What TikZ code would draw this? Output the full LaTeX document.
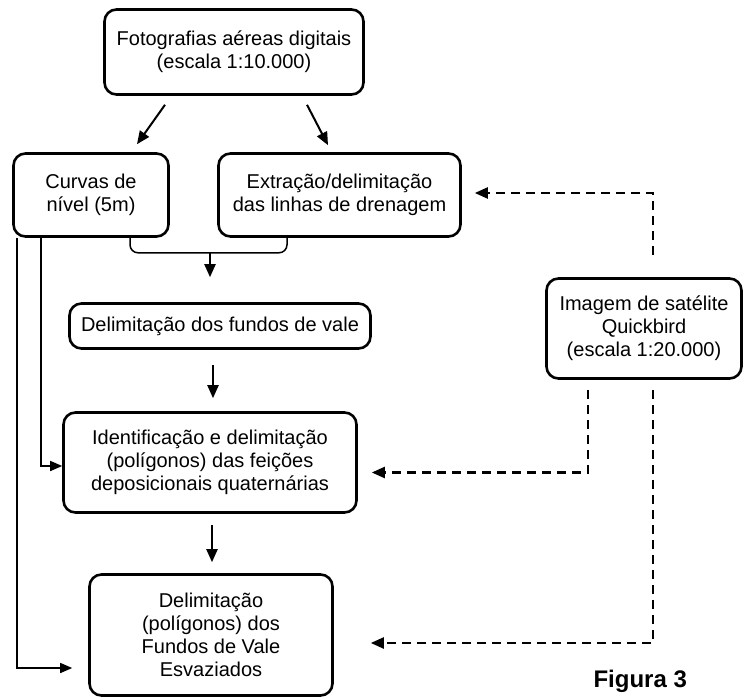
\documentclass[tikz,border=0pt]{standalone}
\usepackage{fontspec}
\setmainfont{Liberation Sans}
\usetikzlibrary{arrows.meta}

\begin{document}
\begin{tikzpicture}[x=1pt,y=-1pt,
  caixa/.style={draw=black,line width=2.6pt,rounded corners=12pt,align=center,inner sep=0pt,font=\fontsize{20}{23}\selectfont},
  seta/.style={line width=2pt,-{Triangle[length=13pt,width=11pt]}},
  fina/.style={line width=1.5pt,-{Triangle[length=12pt,width=10pt]}},
  tracejada/.style={line width=2.3pt,dash pattern=on 9pt off 6pt,-{Triangle[length=13pt,width=11pt]}}]
\useasboundingbox (0,0) rectangle (746,700);

\node[caixa,minimum width=259pt,minimum height=85pt] (foto) at (234,52) {Fotografias aéreas digitais\\(escala 1:10.000)};
\node[caixa,minimum width=155pt,minimum height=83pt] (curvas) at (91,195) {Curvas de\\nível (5m)};
\node[caixa,minimum width=242pt,minimum height=83pt] (extracao) at (339.5,195) {Extração/delimitação\\das linhas de drenagem};
\node[caixa,minimum width=301pt,minimum height=45pt] (fundos) at (220,326) {Delimitação dos fundos de vale};
\node[caixa,minimum width=293pt,minimum height=100pt] (ident) at (210,462.5) {Identificação e delimitação\\(polígonos) das feições\\deposicionais quaternárias};
\node[caixa,minimum width=243pt,minimum height=121pt] (delim) at (211,635) {Delimitação\\(polígonos) dos\\Fundos de Vale\\Esvaziados};
\node[caixa,minimum width=195pt,minimum height=100pt] (sat) at (644,328.5) {Imagem de satélite\\Quickbird\\(escala 1:20.000)};
\node[font=\fontsize{24}{28}\selectfont\bfseries,anchor=west] (figura) at (590,681) {Figura 3};

\draw[seta] ([xshift=-69pt,yshift=-9pt]foto.south) -- ([xshift=46pt,yshift=8pt]curvas.north);
\draw[seta] ([xshift=73pt,yshift=-9pt]foto.south) -- ([xshift=-11.5pt,yshift=7pt]extracao.north);

\draw[line width=1.5pt,rounded corners=8pt] ([xshift=39pt]curvas.south) -- ++(0,15) -| ([xshift=-52.5pt]extracao.south);
\coordinate (juncao) at (210,253);
\draw[seta,shorten >=25pt] (juncao) -- (juncao |- fundos.north);
\draw[seta,shorten <=15pt,shorten >=13pt] ([xshift=-7pt]fundos.south) -- ([xshift=3pt]ident.north);
\draw[seta,shorten <=11pt,shorten >=11pt] ([xshift=2pt]ident.south) -- ([xshift=1pt]delim.north);

\draw[fina] ([xshift=29pt]curvas.south west) |- ([yshift=-3.5pt]ident.west);
\draw[fina] ([xshift=5pt]curvas.south west) |- ([xshift=-16pt,yshift=-33pt]delim.west);

\draw[tracejada,shorten <=22pt] ([xshift=9pt]sat.north) |- ([xshift=13pt,yshift=2pt]extracao.east);
\draw[tracejada,shorten <=10pt] ([xshift=-56pt]sat.south) |- ([xshift=14pt,yshift=-10pt]ident.east);
\draw[tracejada,shorten <=10pt] ([xshift=9pt]sat.south) |- ([xshift=37pt,yshift=-8pt]delim.east);
\end{tikzpicture}
\end{document}
